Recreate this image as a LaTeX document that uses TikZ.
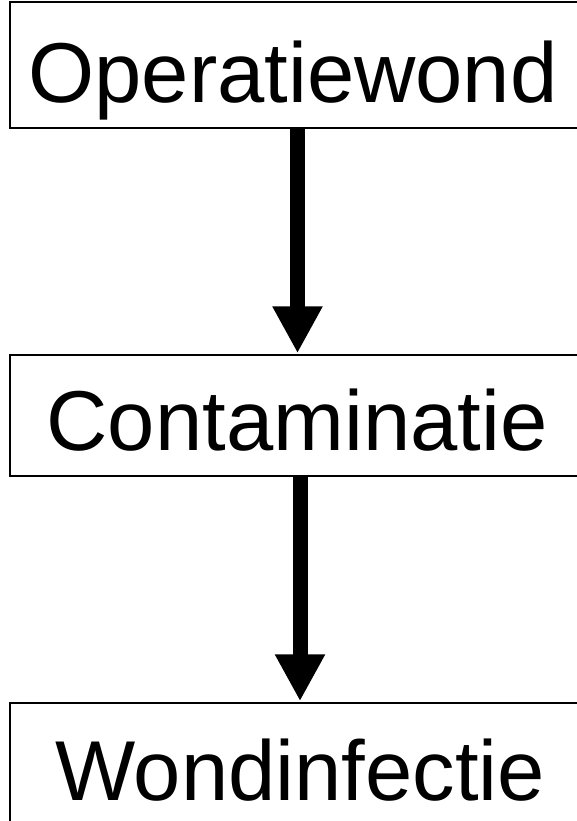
\documentclass[tikz,border=0pt]{standalone}
\usepackage{fontspec}
\setmainfont{Liberation Sans}
\usetikzlibrary{arrows.meta}
\begin{document}
\begin{tikzpicture}[x=1pt,y=-1pt,
  boxnode/.style={draw=black,line width=1.5pt,rectangle,inner sep=0pt,minimum width=585pt},
  boxtext/.style={anchor=base,inner sep=0pt,font=\fontsize{85}{100}\selectfont},
  bigarrow/.style={line width=15pt,-{Triangle[width=47pt,length=47pt]},shorten >=1pt}]
\useasboundingbox (0,0) rectangle (576,821);
\fill[white] (0,0) rectangle (576,821);
\node[boxnode,minimum height=126pt] (box1) at (302.5,65) {};
\node[boxnode,minimum height=121pt] (box2) at (302.5,415.5) {};
\node[boxnode,minimum height=137pt] (box3) at (302.5,771.5) {};
\node[boxtext] (t1) at (293,103) {Operatiewond};
\node[boxtext] (t2) at (297,450) {Contaminatie};
\node[boxtext] (t3) at (300,800) {Wondinfectie};
\draw[bigarrow] ([xshift=-5pt]box1.south) -- ([xshift=-5pt]box2.north);
\draw[bigarrow] ([xshift=-2.5pt]box2.south) -- ([xshift=-2.5pt]box3.north);
\end{tikzpicture}
\end{document}
